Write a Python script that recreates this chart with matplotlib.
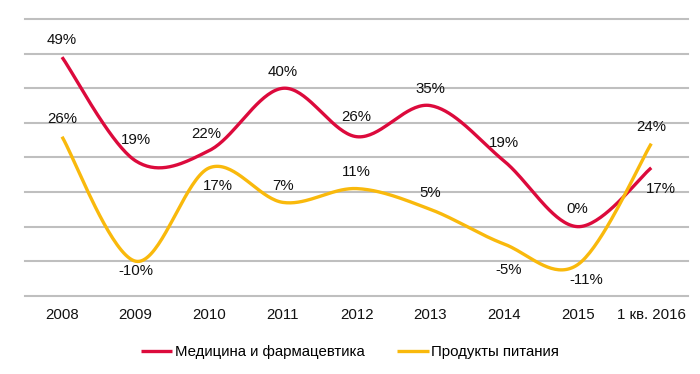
import numpy as np
import matplotlib.pyplot as plt

# data
categories = ["2008", "2009", "2010", "2011", "2012", "2013", "2014", "2015", "1 кв. 2016"]
medicine = [49, 19, 22, 40, 26, 35, 19, 0, 17]
food = [26, -10, 17, 7, 11, 5, -5, -11, 24]

# label offsets in points (dx, dy) for each point
med_offsets = [(0, 12), (0, 15), (-2, 12), (0, 12), (0, 14), (0, 12), (0, 13), (0, 13), (7, -15)]
food_offsets = [(0, 13), (0, -7), (6, -13), (0, 12), (0, 12), (0, 12), (3, -19), (6, -11), (0, 12)]

red = "#DC0A3C"
yellow = "#F9B90C"
fs = 10.8


def smooth(y, steps=40):
    # Catmull-Rom spline through the points (like Excel "smoothed line")
    y = np.asarray(y, dtype=float)
    x = np.arange(len(y), dtype=float)
    xs, ys = [], []
    n = len(y)
    for i in range(n - 1):
        p0 = np.array([x[max(i - 1, 0)], y[max(i - 1, 0)]])
        p1 = np.array([x[i], y[i]])
        p2 = np.array([x[i + 1], y[i + 1]])
        p3 = np.array([x[min(i + 2, n - 1)], y[min(i + 2, n - 1)]])
        c1 = p1 + (p2 - p0) / 6
        c2 = p2 - (p3 - p1) / 6
        t = np.linspace(0, 1, steps)[:, None]
        pts = (1 - t) ** 3 * p1 + 3 * (1 - t) ** 2 * t * c1 + 3 * (1 - t) * t ** 2 * c2 + t ** 3 * p2
        xs.extend(pts[:, 0])
        ys.extend(pts[:, 1])
    return np.array(xs), np.array(ys)


plt.rcParams["font.family"] = ["Liberation Sans", "DejaVu Sans"]

fig = plt.figure(figsize=(7, 3.74), dpi=100)
ax = fig.add_axes([0.036, 0.209, 0.947, 0.74])

for yv in range(-20, 61, 10):
    ax.axhline(yv, color="#BFBFBF", lw=1.5, zorder=0, clip_on=False)

xm, ym = smooth(medicine)
xf, yf = smooth(food)
ax.plot(xm, ym, color=red, lw=2.4, label="Медицина и фармацевтика", solid_capstyle="butt")
ax.plot(xf, yf, color=yellow, lw=2.4, label="Продукты питания", solid_capstyle="butt")

for i, v in enumerate(medicine):
    ax.annotate(f"{v}%", (i, v), xytext=med_offsets[i], textcoords="offset points",
                ha="center", va="center", fontsize=fs, color="#111111")
for i, v in enumerate(food):
    ax.annotate(f"{v}%", (i, v), xytext=food_offsets[i], textcoords="offset points",
                ha="center", va="center", fontsize=fs, color="#111111")

ax.set_xlim(-0.5, len(categories) - 0.5)
ax.set_ylim(-20, 60)
ax.set_xticks(range(len(categories)))
ax.set_xticklabels(categories, fontsize=fs, color="#111111")
ax.set_yticks([])
ax.tick_params(axis="x", length=0, pad=9)
for s in ax.spines.values():
    s.set_visible(False)

fig.legend(loc="center", bbox_to_anchor=(0.5, 0.059), ncol=2, frameon=False,
           fontsize=fs, handlelength=2.1, handletextpad=0.15, columnspacing=2.2)

fig.savefig("out.png", dpi=100)
